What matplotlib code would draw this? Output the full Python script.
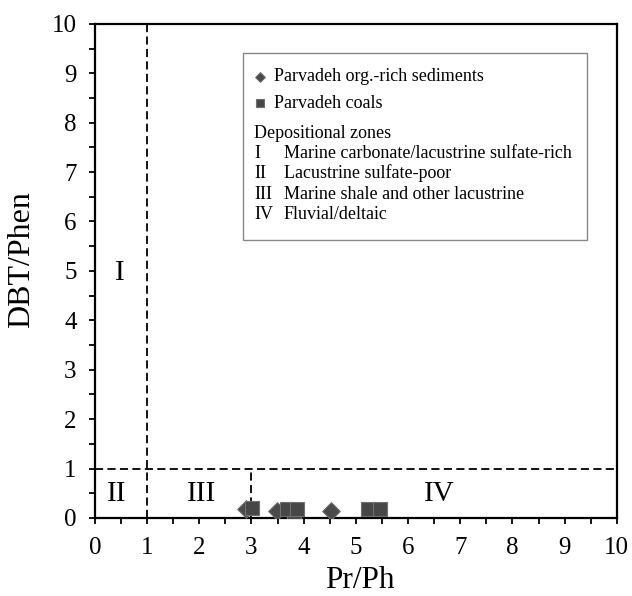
import matplotlib
matplotlib.use("Agg")
import matplotlib.pyplot as plt
from matplotlib.patches import Rectangle

plt.rcParams["font.family"] = ["Liberation Serif", "DejaVu Serif"]

# Parvadeh org.-rich sediments
sed_x = [2.89, 3.49, 4.52]
sed_y = [0.18, 0.15, 0.15]

# Parvadeh coals
coal_x = [3.82, 3.01, 3.68, 3.87, 5.24, 5.47]
coal_y = [0.13, 0.21, 0.18, 0.18, 0.18, 0.18]

# zone boundaries and labels
pr_ph_limit = 1
dbt_limit = 1
zone3_limit = 3
zone_labels = ["I", "II", "III", "IV"]
zone_label_x = [0.48, 0.42, 2.05, 6.6]
zone_label_y = [4.95, 0.48, 0.48, 0.48]
zone_desc = [
    "Marine carbonate/lacustrine sulfate-rich",
    "Lacustrine sulfate-poor",
    "Marine shale and other lacustrine",
    "Fluvial/deltaic",
]

fig = plt.figure(figsize=(6.32, 5.96), dpi=100)
ax = fig.add_axes([0.150, 0.131, 0.826, 0.829])

dash = (0, (4.5, 2.4))
ax.axvline(pr_ph_limit, color="black", lw=1.3, ls=dash, zorder=1)
ax.axhline(dbt_limit, color="black", lw=1.3, ls=dash, zorder=1)
ax.plot([zone3_limit, zone3_limit], [0, dbt_limit], color="black", lw=1.3, ls=dash, zorder=1)

sed = ax.scatter(sed_x, sed_y, marker="D", s=80, facecolor="#4a4a4a",
                 edgecolor="#6a6a6a", linewidth=0.8, zorder=3,
                 label="Parvadeh org.-rich sediments")
coal = ax.scatter(coal_x, coal_y, marker="s", s=92, facecolor="#474747",
                  edgecolor="#707070", linewidth=0.8, zorder=4,
                  label="Parvadeh coals")

for lab, x, y in zip(zone_labels, zone_label_x, zone_label_y):
    ax.text(x, y, lab, fontsize=21, ha="center", va="center")

ax.set_xlim(0, 10)
ax.set_ylim(0, 10)
ax.set_xticks(range(0, 11))
ax.set_yticks(range(0, 11))
ax.set_xticks([i + 0.5 for i in range(10)], minor=True)
ax.set_yticks([i + 0.5 for i in range(10)], minor=True)
ax.tick_params(which="both", direction="out", length=4, width=1.3, labelsize=18)
ax.tick_params(axis="x", which="major", pad=10)
ax.tick_params(axis="y", which="major", pad=9)
for sp in ax.spines.values():
    sp.set_linewidth(1.6)

ax.set_xlabel("Pr/Ph", fontsize=22.5)
ax.set_ylabel("DBT/Phen", fontsize=23)
ax.xaxis.set_label_coords(0.508, -0.098)
ax.yaxis.set_label_coords(-0.113, 0.523)

# legend box
ax.add_patch(Rectangle((0.284, 0.563), 0.659, 0.378, transform=ax.transAxes,
                       facecolor="white", edgecolor="#888888", lw=1.0, zorder=5))
leg = ax.legend(handles=[sed, coal], loc="upper left", bbox_to_anchor=(0.295, 0.910),
                frameon=False, fontsize=13, borderpad=0, borderaxespad=0,
                handletextpad=0.2, labelspacing=0.52, handlelength=1.2,
                markerscale=0.55)
leg.set_zorder(6)

ax.text(0.305, 0.778, "Depositional zones", transform=ax.transAxes,
        fontsize=13, va="center", ha="left", zorder=6)
row_y = [0.7375, 0.697, 0.655, 0.615]
for lab, desc, y in zip(zone_labels, zone_desc, row_y):
    ax.text(0.305, y, lab, transform=ax.transAxes, fontsize=13, va="center", zorder=6)
    ax.text(0.362, y, desc, transform=ax.transAxes, fontsize=13, va="center", zorder=6)

fig.savefig("out.png", dpi=100)
